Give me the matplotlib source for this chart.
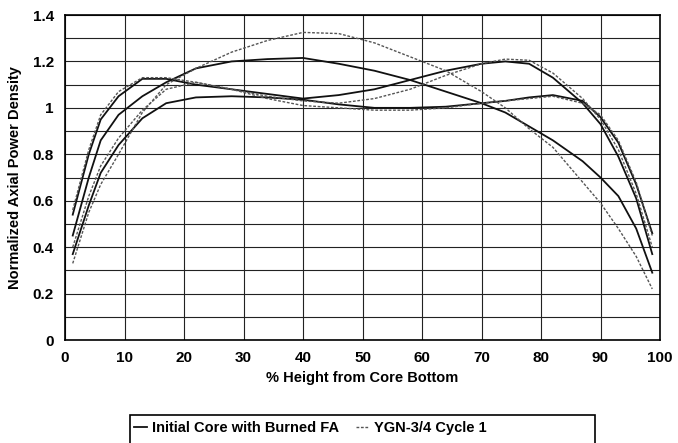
import matplotlib
matplotlib.use("Agg")
import matplotlib.pyplot as plt
from matplotlib.patches import Rectangle
import numpy as np

plt.rcParams['font.family'] = ['Liberation Sans', 'DejaVu Sans']

# % height from core bottom (axial nodes)
height = [1.3, 4, 6, 9, 13, 17, 22, 28, 34, 40, 46, 52, 58, 64, 70, 74, 78, 82, 87, 90, 93, 96, 98.7]

# Initial Core with Burned FA (solid)
init_a = [0.45, 0.70, 0.86, 0.97, 1.05, 1.11, 1.17, 1.20, 1.21, 1.215, 1.19, 1.16, 1.12, 1.07, 1.02, 0.98, 0.92, 0.86, 0.77, 0.70, 0.62, 0.48, 0.29]
init_b = [0.54, 0.80, 0.95, 1.05, 1.125, 1.125, 1.10, 1.08, 1.06, 1.04, 1.055, 1.08, 1.12, 1.16, 1.19, 1.20, 1.19, 1.13, 1.02, 0.93, 0.79, 0.61, 0.37]
init_c = [0.37, 0.58, 0.72, 0.84, 0.955, 1.02, 1.045, 1.05, 1.045, 1.035, 1.015, 1.0, 1.0, 1.005, 1.02, 1.03, 1.045, 1.055, 1.03, 0.96, 0.85, 0.67, 0.46]

# YGN-3/4 Cycle 1 (dotted)
ygn_a = [0.33, 0.55, 0.67, 0.80, 0.98, 1.10, 1.17, 1.24, 1.29, 1.325, 1.32, 1.28, 1.22, 1.16, 1.07, 1.00, 0.91, 0.83, 0.68, 0.59, 0.48, 0.36, 0.22]
ygn_b = [0.56, 0.82, 0.97, 1.07, 1.13, 1.13, 1.11, 1.08, 1.05, 1.03, 1.02, 1.04, 1.08, 1.14, 1.19, 1.21, 1.205, 1.15, 1.04, 0.95, 0.82, 0.63, 0.40]
ygn_c = [0.40, 0.62, 0.75, 0.87, 0.99, 1.08, 1.11, 1.08, 1.04, 1.01, 1.0, 0.99, 0.99, 1.0, 1.02, 1.03, 1.04, 1.05, 1.02, 0.97, 0.86, 0.68, 0.45]

xticks = [0, 10, 20, 30, 40, 50, 60, 70, 80, 90, 100]
yticks = [0, 0.2, 0.4, 0.6, 0.8, 1.0, 1.2, 1.4]
ytick_labels = ['0', '0.2', '0.4', '0.6', '0.8', '1', '1.2', '1.4']

W, H = 678, 443
fig = plt.figure(figsize=(W/100, H/100), dpi=100)
ax = fig.add_axes([65/W, 1-340/H, 595/W, 325/H])

ax.set_xlim(0, 100)
ax.set_ylim(0, 1.4)
ax.set_xticks(xticks)
ax.set_yticks(yticks)
ax.set_yticklabels(ytick_labels)
ax.set_yticks(np.arange(0, 1.41, 0.1), minor=True)
ax.grid(True, which='both', color='#222222', linewidth=0.8)
ax.set_axisbelow(True)
ax.tick_params(which='both', length=0, pad=8)
for lab in ax.get_xticklabels() + ax.get_yticklabels():
    lab.set_fontweight('bold')
    lab.set_fontsize(11)
for s in ax.spines.values():
    s.set_color('black')
    s.set_linewidth(1.2)

sol = dict(color='#111111', linewidth=1.3, linestyle='-')
dot = dict(color='#555555', linewidth=1.0, linestyle=(0, (2, 1.2)))

l1, = ax.plot(height, init_a, **sol)
ax.plot(height, init_b, **sol)
ax.plot(height, init_c, **sol)
l2, = ax.plot(height, ygn_a, **dot)
ax.plot(height, ygn_b, **dot)
ax.plot(height, ygn_c, **dot)

ax.set_xlabel('% Height from Core Bottom', fontsize=10.5, fontweight='bold', labelpad=4)
ax.set_ylabel('Normalized Axial Power Density', fontsize=10.5, fontweight='bold', labelpad=8)

# legend box (extends below the figure edge, as in the reference)
fig.patches.append(Rectangle((130/W, -0.05), 465/W, 0.05 + 1 - 415/H,
                             transform=fig.transFigure, fill=False,
                             edgecolor='black', linewidth=1.2))
leg = fig.legend([l1, l2], ['Initial Core with Burned FA', 'YGN-3/4 Cycle 1'],
                 loc='center left', bbox_to_anchor=(134/W, 1-428/H), ncol=2,
                 frameon=False,
                 handlelength=0.9, handletextpad=0.3, columnspacing=1.2,
                 borderpad=0.0, borderaxespad=0,
                 prop={'weight': 'bold', 'size': 10.5})

fig.savefig('out.png', dpi=100)
